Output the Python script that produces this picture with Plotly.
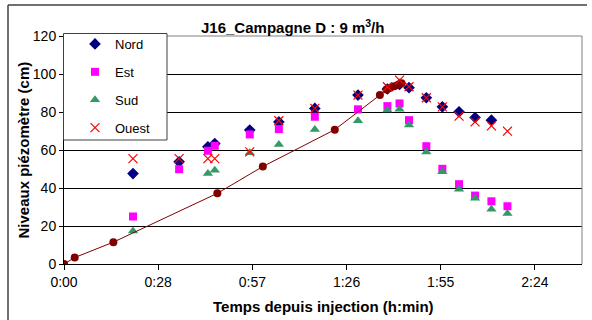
import plotly.graph_objects as go

# Time (minutes since injection)
times = [21.1, 35.2, 44.0, 46.1, 56.8, 65.7, 76.7, 89.9, 98.9, 102.6, 105.5, 110.8, 115.7, 120.8, 125.7, 130.7, 135.6]
nord = [47.6, 53.8, 61.7, 63.4, 70.5, 74.8, 81.9, 88.9, 92.1, 94.5, 92.8, 87.5, 82.7, 80.1, 77.1, 75.7, None]
est = [25.0, 49.9, 59.6, 62.2, 68.2, 71.0, 77.5, 81.4, 83.1, 84.5, 75.7, 62.0, 50.1, 42.0, 36.0, 33.0, 30.4]
sud = [17.4, None, 47.6, 49.4, 58.5, 62.9, 70.8, 75.4, 81.0, 81.4, 73.1, 59.0, 48.5, 39.4, 34.6, 28.8, 26.6]
ouest = [55.5, 55.5, 55.5, 55.5, 59.0, 75.4, 81.9, 88.9, 93.3, 96.8, 93.3, 87.5, 82.7, 77.8, 74.8, 72.7, 69.9]

model_times = [0, 3.27, 15.1, 46.9, 60.8, 82.8, 96.6, 98.6, 99.8, 101.0, 102.2, 103.2]
model_vals = [0, 3.4, 11.5, 37.2, 51.3, 70.7, 88.9, 91.8, 92.8, 93.6, 94.4, 95.1]

x_tickvals = [0, 28.8, 57.6, 86.4, 115.2, 144.0]
x_ticktext = ["0:00", "0:28", "0:57", "1:26", "1:55", "2:24"]
y_tickvals = [0, 20, 40, 60, 80, 100, 120]

FONT = "Liberation Sans, Arial, sans-serif"

fig = go.Figure()
fig.add_trace(go.Scatter(x=times, y=nord, mode="markers", name="Nord", legendgroup="a",
                         marker=dict(symbol="diamond", size=9, color="#000080")))
fig.add_trace(go.Scatter(x=times, y=est, mode="markers", name="Est", legendgroup="b",
                         marker=dict(symbol="square", size=8, color="#FF00FF")))
fig.add_trace(go.Scatter(x=times, y=sud, mode="markers", name="Sud", legendgroup="c",
                         marker=dict(symbol="triangle-up", size=9, color="#339966")))
fig.add_trace(go.Scatter(x=model_times, y=model_vals, mode="lines+markers", showlegend=False,
                         line=dict(color="#800000", width=1),
                         marker=dict(symbol="circle", size=8, color="#800000")))
fig.add_trace(go.Scatter(x=times, y=ouest, mode="markers", name="Ouest", legendgroup="d",
                         marker=dict(symbol="x-thin", size=9, color="#FF0000",
                                     line=dict(color="#FF0000", width=1.2))))

L, R, T, B = 64, 10, 36, 56
W, H = 592, 320
pw, ph = W - L - R, H - T - B

def px_x(x):
    return (x - L) / pw

def px_y(y):
    return (H - B - y) / ph

fig.update_layout(
    width=W, height=H,
    margin=dict(l=L, r=R, t=T, b=B),
    paper_bgcolor="white", plot_bgcolor="white",
    font=dict(family=FONT, size=14, color="black"),
    showlegend=True,
    legend=dict(x=px_x(75), y=px_y(29), xanchor="left", yanchor="top",
                bgcolor="rgba(0,0,0,0)", borderwidth=0,
                font=dict(size=13, family=FONT), tracegroupgap=8),
    xaxis=dict(range=[0, 158.4], tickvals=x_tickvals, ticktext=x_ticktext,
               showgrid=False, zeroline=False, showline=True, linecolor="black", linewidth=1,
               ticks="outside", ticklen=5, tickcolor="black",
               tickfont=dict(size=14, family=FONT)),
    yaxis=dict(range=[0, 120], tickvals=y_tickvals,
               showgrid=True, gridcolor="black", gridwidth=1, zeroline=False,
               showline=True, linecolor="black", linewidth=1,
               ticks="outside", ticklen=4, tickcolor="black",
               tickfont=dict(size=14, family=FONT)),
    annotations=[
        dict(text="<b>J16_Campagne D : 9 m<sup>3</sup>/h</b>", xref="paper", yref="paper",
             x=px_x(292.5), y=px_y(26), xanchor="center", yanchor="middle", showarrow=False,
             font=dict(size=15, family=FONT)),
        dict(text="<b>Temps depuis injection (h:min)</b>", xref="paper", yref="paper",
             x=0.5, y=px_y(306.5), xanchor="center", yanchor="middle", showarrow=False,
             font=dict(size=15, family=FONT)),
        dict(text="<b>Niveaux piézomètre (cm)</b>", xref="paper", yref="paper",
             x=px_x(22.5), y=0.5, xanchor="center", yanchor="middle", showarrow=False,
             textangle=-90, font=dict(size=15, family=FONT)),
    ],
    shapes=[
        # plot area border (grey top/right)
        dict(type="line", xref="paper", yref="paper", x0=0, x1=1, y0=1, y1=1,
             line=dict(color="#808080", width=1)),
        dict(type="line", xref="paper", yref="paper", x0=1, x1=1, y0=0, y1=1,
             line=dict(color="#808080", width=1)),
        # legend box
        dict(type="rect", xref="paper", yref="paper", layer="above",
             x0=px_x(63.5), x1=px_x(167), y0=px_y(33.5), y1=px_y(140),
             fillcolor="white", line=dict(color="#404040", width=1)),
        # chart outer border (top and left visible)
        dict(type="line", xref="paper", yref="paper", x0=px_x(8), x1=px_x(587), y0=px_y(5), y1=px_y(5),
             line=dict(color="#404040", width=1.5)),
        dict(type="line", xref="paper", yref="paper", x0=px_x(8), x1=px_x(8), y0=px_y(5), y1=px_y(322),
             line=dict(color="#404040", width=1.5)),
    ],
)

fig.write_html("out.html", config={"displayModeBar": False},
               post_script="document.body.style.margin='0';document.body.style.overflow='hidden';")
